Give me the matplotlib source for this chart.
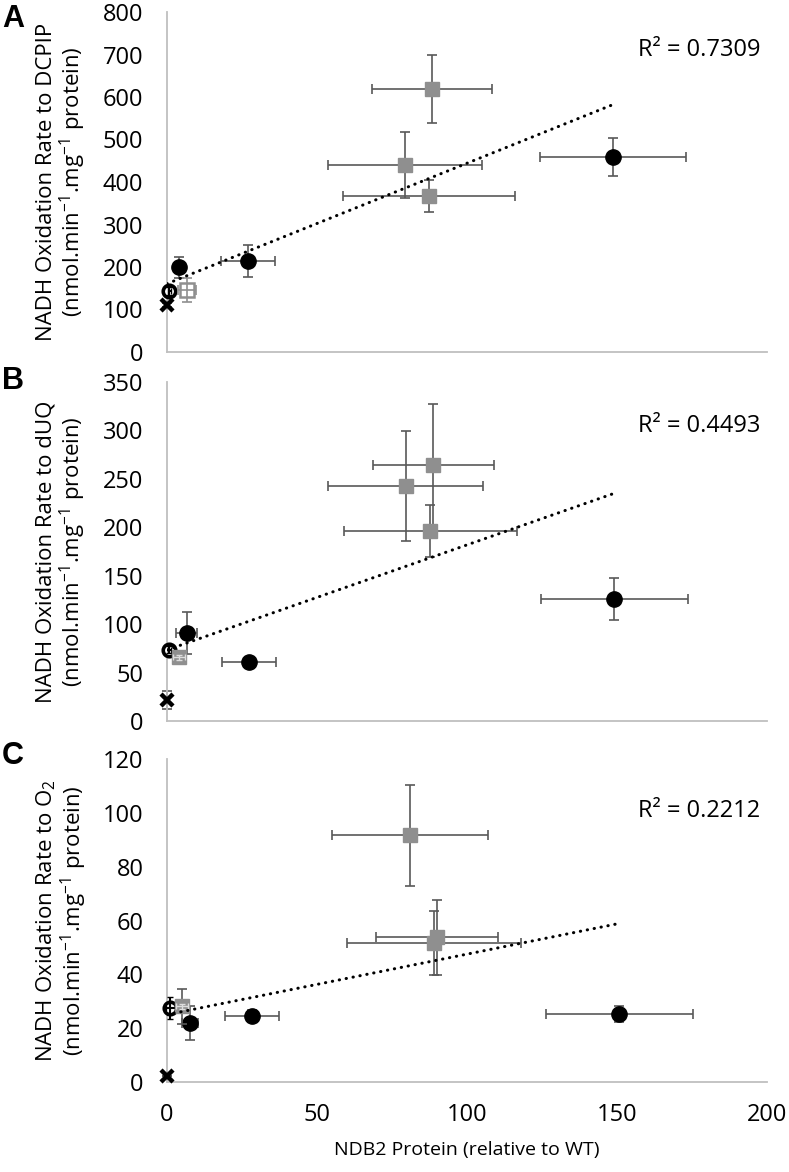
import numpy as np
import matplotlib.pyplot as plt

plt.rcParams['font.family'] = ['Open Sans', 'DejaVu Sans']
plt.rcParams['mathtext.fontset'] = 'custom'
plt.rcParams['mathtext.rm'] = 'Open Sans'

# --- panel A : DCPIP ---
a_dot_x = [3.9, 27.1, 148.7]
a_dot_xerr = [1.0, 9.0, 24.4]
a_dot_y = [199, 214, 459]
a_dot_yerr = [24, 37, 44]
a_sq_x = [88.3, 79.3, 87.3]
a_sq_xerr = [20.0, 25.7, 28.8]
a_sq_y = [619, 440, 367]
a_sq_yerr = [79, 77, 37]
a_small_sq = [6.6, 3.0, 146, 29]      # x, xerr, y, yerr
a_ring = [0.8, 0.5, 144, 10]
a_cross = [0.0, 0.0, 111, 4]

# --- panel B : dUQ ---
b_dot_x = [6.6, 27.2, 149.1]
b_dot_xerr = [3.5, 9.0, 24.5]
b_dot_y = [91, 61.4, 125.9]
b_dot_yerr = [22, 4, 22]
b_sq_x = [88.8, 79.6, 87.8]
b_sq_xerr = [20.2, 25.8, 28.9]
b_sq_y = [264, 242.7, 196]
b_sq_yerr = [63, 57, 27]
b_small_sq = [4.0, 2.0, 65.6, 4]
b_ring = [0.8, 0.5, 73.8, 4]
b_cross = [0.0, 0.0, 21.4, 9.5]

# --- panel C : O2 ---
c_dot_x = [7.7, 28.4, 150.8]
c_dot_xerr = [2.7, 9.0, 24.5]
c_dot_y = [21.9, 24.7, 25.4]
c_dot_yerr = [6.3, 2, 3]
c_sq_x = [81.0, 90.0, 89.0]
c_sq_xerr = [26.0, 20.3, 28.9]
c_sq_y = [91.7, 53.7, 51.6]
c_sq_yerr = [18.8, 13.8, 11.9]
c_small_sq = [4.9, 2.0, 28.1, 6.5]
c_ring = [1.0, 1.5, 27.5, 4]
c_cross = [0.0, 0.0, 2.4, 0]

r2_labels = ["R² = 0.7309", "R² = 0.4493", "R² = 0.2212"]
y_labels = ["NADH Oxidation Rate to DCPIP",
            "NADH Oxidation Rate to dUQ",
            "NADH Oxidation Rate to O$_\\mathregular{2}$"]
y_unit = "(nmol.min$^{\\mathregular{-1}}$.mg$^{\\mathregular{-1}}$ protein)"
y_limits = [800, 350, 120]
y_steps = [100, 50, 20]
letters = ["A", "B", "C"]

panels = [
    (a_dot_x, a_dot_xerr, a_dot_y, a_dot_yerr, a_sq_x, a_sq_xerr, a_sq_y, a_sq_yerr, a_small_sq, a_ring, a_cross),
    (b_dot_x, b_dot_xerr, b_dot_y, b_dot_yerr, b_sq_x, b_sq_xerr, b_sq_y, b_sq_yerr, b_small_sq, b_ring, b_cross),
    (c_dot_x, c_dot_xerr, c_dot_y, c_dot_yerr, c_sq_x, c_sq_xerr, c_sq_y, c_sq_yerr, c_small_sq, c_ring, c_cross),
]

W, H = 789, 1172
fig = plt.figure(figsize=(W / 100, H / 100), dpi=100)

# axes boxes in pixels: (top, bottom)
boxes = [(12, 352), (382, 721), (759, 1082)]
left_px, right_px = 167, 767
r2_y = [50, 426, 811]
letter_y = [19, 381, 756]

err_c = '#595959'
gray = '#8f8f8f'
ekw = dict(fmt='none', ecolor=err_c, elinewidth=1.2, capsize=3.6, capthick=1.2, clip_on=False)

for i, p in enumerate(panels):
    dx, dxe, dy, dye, sx, sxe, sy, sye, small, ring, cross = p
    top, bot = boxes[i]
    ax = fig.add_axes([left_px / W, 1 - bot / H, (right_px - left_px) / W, (bot - top) / H])

    # error bars
    ax.errorbar(dx, dy, xerr=dxe, yerr=dye, zorder=2, **ekw)
    ax.errorbar(sx, sy, xerr=sxe, yerr=sye, zorder=2, **ekw)
    ax.errorbar([cross[0]], [cross[2]], xerr=[cross[1]], yerr=[cross[3]], zorder=2, **ekw)

    # markers
    ax.plot(dx, dy, 'o', ms=11, color='black', zorder=3, clip_on=False)
    ax.plot(sx, sy, 's', ms=10, color=gray, zorder=3, clip_on=False)
    ax.plot([cross[0]], [cross[2]], 'x', ms=9, mew=3.2, color='black', zorder=3, clip_on=False)
    ax.plot([ring[0]], [ring[2]], 'o', ms=9, mfc='white', mec='black', mew=2.6, zorder=4, clip_on=False)
    ax.errorbar([ring[0]], [ring[2]], xerr=[ring[1]], yerr=[ring[3]], fmt='none', ecolor='black',
                elinewidth=1.5, capsize=2, zorder=5, clip_on=False)
    if i == 0:
        ax.plot([small[0]], [small[2]], 's', ms=10, mfc='white', mec=gray, mew=1.8, zorder=4, clip_on=False)
        ax.errorbar([small[0]], [small[2]], xerr=[small[1]], yerr=[small[3]], fmt='none', ecolor=gray,
                    elinewidth=1.2, capsize=3.6, capthick=1.2, zorder=5, clip_on=False)
    else:
        ax.errorbar([small[0]], [small[2]], xerr=[small[1]], yerr=[small[3]], zorder=4, **ekw)
        ax.plot([small[0]], [small[2]], 's', ms=10, color=gray, zorder=5, clip_on=False)
        ax.errorbar([small[0]], [small[2]], xerr=[small[1]], yerr=[min(small[3], 2.5 * y_limits[i] / 300)],
                    fmt='none', ecolor='#dddddd', elinewidth=1.0, capsize=2, capthick=1.0, zorder=6, clip_on=False)

    # linear trendline over all points
    all_x = np.array(dx + sx + [small[0], ring[0], cross[0]])
    all_y = np.array(dy + sy + [small[2], ring[2], cross[2]])
    k, b0 = np.polyfit(all_x, all_y, 1)
    tx = np.array([all_x.min(), all_x.max()])
    ax.plot(tx, k * tx + b0, color='black', lw=2.2, linestyle=(0, (0.1, 2.2)),
            dash_capstyle='round', zorder=6)

    ax.set_xlim(0, 200)
    ax.set_ylim(0, y_limits[i])
    ax.set_yticks(np.arange(0, y_limits[i] + 1, y_steps[i]))
    ax.set_xticks(np.arange(0, 201, 50))
    for s in ['top', 'right']:
        ax.spines[s].set_visible(False)
    for s in ['left', 'bottom']:
        ax.spines[s].set_color('#bfbfbf')
        ax.spines[s].set_linewidth(1.3)
    ax.tick_params(length=0, labelsize=17, pad=17, colors='black')
    ax.tick_params(axis='x', pad=15)
    if i < 2:
        ax.tick_params(axis='x', labelbottom=False)

    ax.text(-0.175, 0.5, y_labels[i] + "\n" + y_unit, transform=ax.transAxes, rotation=90,
            ha='center', va='center', multialignment='center', fontsize=16, linespacing=1.05)
    fig.text(638 / W, 1 - r2_y[i] / H, r2_labels[i], ha='left', va='center', fontsize=17)
    fig.text(2 / W, 1 - letter_y[i] / H, letters[i], ha='left', va='center', fontsize=22,
             fontweight='bold', family='Liberation Sans')

fig.text(467 / W, 1 - 1150 / H, "NDB2 Protein (relative to WT)", ha='center', va='center', fontsize=14)

fig.savefig('out.png', dpi=100)
